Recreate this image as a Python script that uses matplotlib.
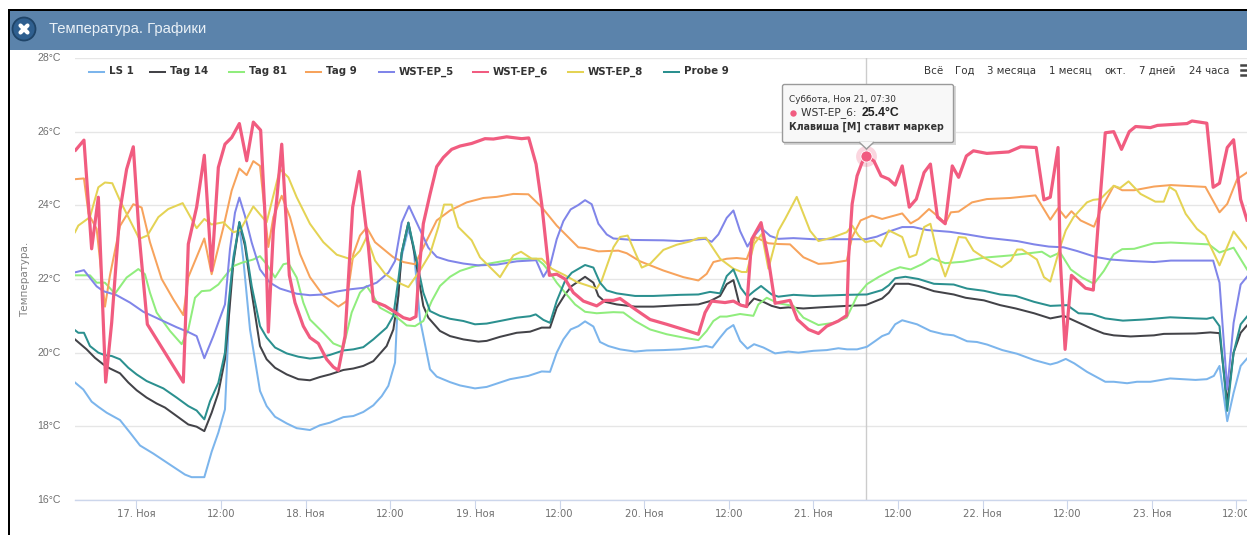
import matplotlib
matplotlib.use("Agg")
import matplotlib.pyplot as plt
from matplotlib.patches import Rectangle, Circle, Polygon, FancyBboxPatch

# ---- data: hours since 17 Nov 00:00, temperature in deg C ----
ls1_h = [-8.72,-7.54,-6.36,-5.41,-4.23,-2.34,-0.92,0.5,2.39,4.75,6.88,7.82,9.62,10.66,11.61,12.55,12.79,13.26,13.74,14.59,15.15,16.1,17.52,18.46,19.65,21.3,22.72,24.6,26.03,27.45,29.34,30.76,32.17,33.59,34.78,35.72,36.67,37.14,37.61,38.56,39.27,40.21,41.63,42.58,44.47,45.89,48.01,49.67,51.09,52.98,55.58,57.47,58.65,59.6,60.54,61.58,62.67,63.62,64.8,65.74,66.93,68.58,70.71,72.37,74.73,77.09,79.46,80.78,81.68,82.77,83.71,84.66,85.61,86.65,87.59,88.91,90.57,92.46,93.88,96.0,97.9,99.55,100.78,102.2,103.6,104.8,105.75,106.7,107.6,108.6,110.7,112.6,114.5,115.9,117.8,119.2,120.64,122.8,124.9,127.3,129.6,130.6,131.8,133.0,134.8,137.4,138.6,140.5,141.9,143.8,146.6,150.2,151.8,152.8,153.6,154.7,155.6,156.6,157.5]
ls1_t = [19.19,19.0,18.67,18.53,18.37,18.17,17.83,17.48,17.26,16.96,16.69,16.62,16.62,17.31,17.83,18.46,19.46,21.72,22.62,23.44,22.53,20.63,18.96,18.55,18.26,18.08,17.95,17.9,18.03,18.1,18.25,18.28,18.39,18.57,18.82,19.1,19.73,21.72,22.62,23.35,22.9,20.9,19.55,19.35,19.2,19.11,19.03,19.07,19.16,19.28,19.37,19.49,19.48,20.0,20.36,20.63,20.72,20.85,20.71,20.29,20.18,20.09,20.03,20.06,20.07,20.09,20.14,20.18,20.14,20.41,20.63,20.75,20.32,20.11,20.23,20.14,19.98,20.03,20.0,20.05,20.07,20.12,20.09,20.09,20.16,20.32,20.45,20.52,20.77,20.88,20.77,20.59,20.5,20.47,20.31,20.29,20.22,20.07,19.97,19.8,19.68,19.73,19.83,19.71,19.48,19.21,19.21,19.17,19.21,19.21,19.3,19.26,19.28,19.37,19.64,18.14,18.91,19.64,19.84]

tag14_h = [-8.72,-7.07,-5.89,-4.7,-3.76,-2.34,-1.16,0.02,1.44,2.86,4.04,5.7,7.35,8.53,9.62,10.66,11.61,12.55,13.03,13.74,14.59,15.39,16.34,17.52,18.46,19.65,21.3,22.96,24.6,26.03,27.45,29.34,30.76,32.17,33.59,35.48,36.43,37.14,37.61,38.56,39.5,40.68,41.39,43.04,44.47,46.36,48.49,49.67,51.56,53.93,55.82,57.47,58.65,59.6,60.78,61.73,63.62,64.8,65.51,66.45,68.11,70.71,73.31,77.09,79.69,81.34,82.77,83.71,84.66,85.51,86.55,87.59,88.68,90.09,91.28,92.46,94.59,96.95,100.73,103.4,105.75,106.7,107.6,109.5,110.9,113.1,115.9,117.6,120.2,122.5,124.7,127.3,129.6,131.5,133.9,135.5,137.2,138.6,141.0,144.3,145.7,150.2,152.3,153.6,154.7,155.6,156.6,157.5]
tag14_t = [20.36,20.09,19.86,19.68,19.57,19.44,19.19,18.98,18.78,18.62,18.51,18.28,18.05,17.99,17.87,18.37,18.91,19.82,20.81,22.44,23.53,22.9,21.63,20.18,19.82,19.59,19.41,19.28,19.25,19.34,19.41,19.53,19.57,19.64,19.77,20.18,20.63,21.54,22.71,23.53,22.62,21.27,20.95,20.59,20.45,20.36,20.3,20.32,20.43,20.54,20.57,20.68,20.68,21.22,21.58,21.81,22.06,21.9,21.54,21.38,21.31,21.25,21.25,21.29,21.31,21.4,21.54,21.86,21.97,21.31,21.25,21.47,21.4,21.27,21.21,21.23,21.2,21.23,21.27,21.29,21.47,21.63,21.87,21.87,21.81,21.67,21.58,21.49,21.42,21.29,21.2,21.07,20.93,21.0,20.79,20.65,20.52,20.47,20.44,20.47,20.51,20.52,20.55,20.53,18.64,20.0,20.54,20.74]

tag81_h = [-8.72,-6.6,-5.65,-4.47,-3.05,-1.4,0.26,1.2,1.91,2.86,4.75,6.41,7.35,8.3,9.24,10.43,11.61,12.55,13.74,14.92,16.57,17.52,18.46,19.65,20.83,21.54,22.72,23.66,24.6,26.5,27.92,29.34,30.52,31.7,32.65,33.59,34.54,36.67,38.32,39.5,40.68,41.87,43.04,44.47,45.89,48.01,50.62,53.93,56.76,57.71,58.65,59.6,60.78,62.2,63.62,65.27,67.64,69.05,70.71,72.84,75.2,77.57,79.69,80.87,81.82,82.77,83.71,85.61,87.49,88.2,89.39,91.04,93.17,94.59,96.72,98.85,100.73,102.2,103.6,105.3,107.0,108.3,109.8,111.4,112.8,114.7,117.3,120.2,123.95,126.6,128.4,129.6,131.0,132.5,134.1,135.8,137.2,138.6,139.8,141.5,144.3,146.7,150.0,152.1,153.6,155.6,157.5]
tag81_t = [22.1,22.1,21.9,21.9,21.6,22.04,22.27,22.13,21.63,21.09,20.59,20.23,20.63,21.49,21.67,21.69,21.85,22.08,22.35,22.44,22.53,22.62,22.4,22.04,22.4,22.43,22.04,21.36,20.9,20.54,20.25,20.14,21.09,21.63,21.81,21.54,21.22,21.0,20.74,20.72,20.86,21.4,21.81,22.06,22.22,22.35,22.44,22.55,22.55,22.4,22.17,21.9,21.63,21.31,21.11,21.07,21.1,21.09,20.86,20.63,20.5,20.41,20.34,20.59,20.86,20.98,20.98,21.05,21.0,21.31,21.49,21.34,21.27,20.95,20.75,20.81,20.95,21.54,21.86,22.06,22.23,22.32,22.26,22.4,22.56,22.43,22.47,22.58,22.64,22.7,22.74,22.6,22.72,22.26,22.04,21.87,22.22,22.67,22.81,22.82,22.97,22.99,22.96,22.94,22.72,22.85,22.26]

tag9_h = [-8.72,-7.45,-6.8,-5.65,-4.47,-3.76,-2.34,-0.45,0.73,1.91,3.57,5.22,6.64,7.35,9.62,10.66,12.32,13.5,14.59,15.63,16.57,17.52,18.7,19.41,20.6,21.77,23.19,24.6,26.5,28.63,29.8,30.76,31.7,32.65,33.83,36.43,37.85,39.5,40.68,42.58,44.47,46.83,49.2,51.09,53.45,55.58,57.47,59.6,62.67,63.62,65.51,68.35,69.53,71.42,74.73,77.57,79.69,80.87,81.82,83.71,85.13,86.55,87.73,89.62,91.04,92.69,94.59,96.72,98.37,100.73,101.5,102.7,104.3,105.75,108.6,109.8,110.9,112.4,113.8,114.7,115.5,116.6,118.5,120.6,123.95,127.5,129.6,130.7,131.8,132.6,133.9,135.8,136.7,138.6,139.8,141.5,144.3,146.7,151.6,153.6,154.7,156.1,157.5]
tag9_t = [24.71,24.73,23.77,23.36,21.25,22.1,23.44,24.03,23.94,23.0,22.0,21.45,21.02,22.05,23.1,22.13,23.4,24.4,25.0,24.82,25.2,25.07,22.87,23.68,24.26,23.68,22.68,22.05,21.55,21.25,21.4,22.68,23.18,23.4,23.0,22.59,22.46,22.4,22.86,23.59,23.86,24.08,24.2,24.23,24.31,24.3,23.95,23.45,22.86,22.84,22.75,22.77,22.7,22.48,22.23,22.05,21.96,22.14,22.46,22.55,22.57,22.54,23.14,22.97,22.95,22.94,22.59,22.41,22.43,22.5,23.14,23.59,23.72,23.63,23.78,23.51,23.63,23.9,23.68,23.51,23.81,23.83,24.08,24.17,24.2,24.27,23.61,23.92,23.66,23.84,23.59,23.42,23.86,24.53,24.41,24.41,24.51,24.55,24.5,23.81,24.04,24.71,24.89]

ep5_h = [-8.72,-7.45,-6.6,-5.65,-4.7,-2.81,-0.92,0.97,3.33,5.7,7.35,8.53,9.62,10.9,12.55,13.26,13.97,14.59,15.39,16.34,17.52,18.93,20.35,22.72,24.6,26.5,28.4,30.29,32.17,34.06,35.72,36.67,37.61,38.65,39.74,41.39,42.58,44.23,46.36,48.49,51.09,53.93,56.67,57.71,58.65,59.6,60.54,61.58,62.67,63.62,64.56,65.51,66.69,67.64,70.47,74.73,77.09,79.46,80.64,81.58,82.53,83.71,84.66,85.61,86.65,87.59,88.58,89.86,91.04,93.17,96.0,101.2,103.4,105.0,106.9,108.6,110.2,112.1,115.4,117.8,120.6,124.9,127.3,129.4,131.5,133.4,136.0,138.1,141.0,144.3,146.7,152.7,153.6,154.7,155.6,156.6,157.5]
ep5_t = [22.18,22.24,22.03,21.8,21.67,21.56,21.36,21.11,20.9,20.69,20.56,20.45,19.85,20.45,21.31,22.81,23.8,24.21,23.71,22.99,22.26,21.9,21.74,21.6,21.56,21.58,21.66,21.72,21.76,21.9,22.17,22.49,23.53,23.98,23.53,22.85,22.6,22.5,22.42,22.37,22.39,22.48,22.51,22.06,22.35,23.08,23.57,23.89,24.01,24.14,24.03,23.5,23.21,23.1,23.06,23.05,23.03,23.07,23.09,23.01,23.21,23.66,23.86,23.3,22.88,23.17,23.39,23.17,23.09,23.11,23.08,23.08,23.08,23.15,23.3,23.41,23.41,23.33,23.28,23.21,23.12,23.03,22.94,22.88,22.86,22.76,22.6,22.53,22.49,22.46,22.5,22.5,21.9,19.0,20.81,21.85,22.06]

ep6_h = [-8.63,-7.45,-6.36,-5.41,-4.37,-3.52,-2.34,-1.4,-0.45,0.4,1.54,6.64,7.35,8.53,9.62,10.66,11.61,12.55,13.5,14.59,15.63,16.57,17.61,18.22,18.7,19.41,19.88,20.6,21.68,22.48,23.66,24.6,25.79,26.97,27.92,28.63,29.58,30.66,31.6,32.9,33.59,35.25,36.67,37.85,38.79,39.64,39.97,40.68,41.63,42.58,43.52,44.7,45.89,47.54,49.43,50.62,52.51,54.63,55.63,56.67,57.47,58.56,59.6,60.78,61.96,63.38,65.27,66.45,67.64,68.58,70.71,72.84,75.2,77.57,79.69,80.64,81.58,83.47,84.66,85.7,86.55,87.26,88.58,89.62,90.57,92.69,93.74,95.3,96.72,97.9,99.55,100.73,101.0,101.5,102.2,102.9,103.5,104.6,105.6,106.7,107.6,108.6,109.6,110.6,111.7,112.6,113.6,114.7,115.7,116.6,117.7,118.7,120.6,123.7,125.4,127.6,128.7,129.6,130.7,131.0,131.7,132.6,134.6,135.7,136.5,137.4,138.6,139.7,140.8,141.7,143.8,144.8,149.0,149.7,151.8,152.7,153.6,154.7,155.6,156.6,157.5]
ep6_t = [25.5,25.77,22.82,24.22,19.2,20.81,23.86,24.98,25.59,23.14,20.77,19.2,22.95,23.95,25.36,22.23,25.03,25.66,25.84,26.22,25.21,26.26,26.04,23.77,20.56,23.32,24.13,25.66,22.1,21.36,20.72,20.41,20.25,19.82,19.61,19.52,20.45,23.95,24.92,22.86,21.4,21.27,21.1,20.95,20.9,20.98,21.96,23.5,24.3,25.05,25.3,25.52,25.61,25.68,25.81,25.8,25.86,25.81,25.83,25.12,24.04,22.1,22.13,22.0,21.63,21.4,21.27,21.42,21.42,21.47,21.18,20.9,20.77,20.63,20.5,21.09,21.4,21.36,21.4,21.29,21.25,23.08,23.53,22.53,21.34,21.42,20.9,20.63,20.52,20.72,20.86,21.01,22.6,24.04,24.8,25.16,25.35,25.2,24.8,24.71,24.55,25.07,23.95,24.17,24.89,25.12,23.68,23.5,25.07,24.76,25.34,25.48,25.41,25.45,25.59,25.57,24.15,24.22,25.57,22.6,20.09,22.1,21.75,21.7,23.77,25.97,26.0,25.52,26.0,26.14,26.11,26.17,26.22,26.29,26.23,24.49,24.6,25.57,25.78,24.16,23.6]

ep8_h = [-8.72,-8.25,-6.6,-5.41,-4.47,-3.43,-2.34,-0.92,0.4,1.54,3.1,4.51,6.55,8.53,9.62,10.66,12.32,13.74,14.68,16.57,18.46,20.35,21.54,22.72,24.6,26.5,28.4,30.52,31.7,32.65,33.83,35.25,36.9,38.56,40.21,41.63,42.81,43.62,44.7,45.65,47.54,48.72,51.56,53.45,54.54,56.05,57.47,58.89,60.78,62.44,65.27,65.98,67.64,68.58,69.67,71.66,72.84,74.73,76.62,78.51,79.69,80.78,82.77,84.66,85.84,86.55,87.59,88.68,89.62,91.04,91.99,93.64,95.53,96.72,98.6,100.73,101.5,102.4,103.4,104.6,105.6,106.7,108.6,109.6,110.6,111.7,112.6,113.6,114.7,115.7,116.6,117.6,118.7,120.2,122.7,124.0,124.9,125.6,127.7,128.7,129.6,131.0,131.8,132.9,134.8,135.7,136.7,138.6,139.5,140.7,142.4,144.5,145.7,146.5,147.4,148.8,150.4,151.6,153.6,155.6,157.5]
ep8_t = [23.27,23.45,23.68,24.49,24.62,24.6,24.13,23.59,23.09,23.18,23.68,23.9,24.06,23.38,23.63,23.48,23.54,23.27,23.32,23.97,23.54,24.98,24.76,24.22,23.5,23.0,22.66,22.53,22.77,23.14,22.5,22.14,21.92,21.78,22.23,22.68,23.41,24.02,24.02,23.41,23.05,22.59,22.05,22.64,22.74,22.55,22.55,22.28,22.1,21.92,21.74,21.96,22.86,23.14,23.18,22.31,22.41,22.79,22.93,23.02,23.11,23.12,22.55,22.28,22.19,22.19,22.95,23.22,22.28,23.31,23.63,24.23,23.31,23.03,23.12,23.27,23.45,23.18,23.0,23.05,22.88,23.32,23.14,22.59,22.66,23.41,23.5,22.68,22.07,22.59,23.14,23.12,22.77,22.58,22.32,22.5,22.8,22.8,22.53,22.05,21.93,22.87,23.32,23.68,24.08,24.15,24.17,24.53,24.47,24.65,24.31,24.1,24.1,24.5,24.39,23.77,23.36,23.18,22.37,23.29,22.82]

probe9_h = [-8.72,-8.25,-7.45,-6.6,-5.41,-4.47,-3.52,-2.34,-1.16,0.02,1.44,2.86,3.81,5.7,7.35,8.53,9.62,10.43,11.61,12.55,13.03,13.74,14.59,15.39,16.34,17.52,18.46,19.65,21.3,22.96,24.6,26.03,27.45,29.34,30.76,32.17,33.59,35.48,36.43,37.14,37.61,38.56,39.5,40.68,41.63,43.04,44.47,46.36,48.01,49.67,51.56,53.93,55.82,56.62,57.71,58.65,59.6,60.78,61.73,63.62,64.8,65.74,66.69,68.11,70.71,73.31,77.09,79.69,81.34,82.77,83.71,84.66,85.7,86.65,87.59,88.58,90.09,91.04,93.17,96.0,100.73,103.6,105.75,106.7,107.6,109.05,110.9,113.1,115.9,117.8,120.2,122.5,124.7,127.3,129.6,132.0,133.6,135.5,137.4,139.9,142.9,146.6,150.2,151.8,152.7,153.6,154.7,155.6,156.6,157.5]
probe9_t = [20.61,20.54,20.54,20.18,20.0,19.93,19.91,19.82,19.59,19.41,19.23,19.11,19.03,18.78,18.55,18.43,18.19,18.68,19.18,20.0,21.27,22.53,23.55,22.99,21.81,20.72,20.41,20.14,19.98,19.89,19.84,19.87,19.94,20.06,20.09,20.15,20.36,20.68,21.0,21.99,22.71,23.53,22.71,21.63,21.13,21.0,20.92,20.86,20.77,20.79,20.86,20.95,20.99,21.04,20.89,20.81,21.4,21.95,22.17,22.38,22.31,21.9,21.69,21.61,21.54,21.54,21.57,21.58,21.65,21.61,22.08,22.26,21.76,21.52,21.67,21.81,21.58,21.52,21.57,21.54,21.57,21.58,21.7,21.83,22.02,22.06,22.0,21.87,21.85,21.74,21.68,21.58,21.54,21.38,21.27,21.29,21.07,21.05,20.93,20.87,20.9,20.96,20.93,20.92,20.96,20.72,18.42,20.0,20.77,20.98]

series_names = ["LS 1", "Tag 14", "Tag 81", "Tag 9", "WST-EP_5", "WST-EP_6", "WST-EP_8", "Probe 9"]
series_hours = [ls1_h, tag14_h, tag81_h, tag9_h, ep5_h, ep6_h, ep8_h, probe9_h]
series_temps = [ls1_t, tag14_t, tag81_t, tag9_t, ep5_t, ep6_t, ep8_t, probe9_t]
series_colors = ["#7cb5ec", "#434348", "#90ed7d", "#f7a35c", "#8085e9", "#f15c80", "#e4d354", "#2b908f"]
y_ticks = [16, 18, 20, 22, 24, 26, 28]
x_ticks = [0, 12, 24, 36, 48, 60, 72, 84, 96, 108, 120, 132, 144, 156]
x_labels = ["17. Ноя", "12:00", "18. Ноя", "12:00", "19. Ноя", "12:00", "20. Ноя", "12:00",
            "21. Ноя", "12:00", "22. Ноя", "12:00", "23. Ноя", "12:00"]
range_labels = ["Всё", "Год", "3 месяца", "1 месяц", "окт.", "7 дней", "24 часа"]
hover_hour = 103.5
hover_temp = 25.35

# ---- layout ----
W, H = 1247, 535
fig = plt.figure(figsize=(W / 100, H / 100), dpi=100, facecolor="white")
L, R, T, B = 75, 1247, 58, 500
ax = fig.add_axes([L / W, 1 - B / H, (R - L) / W, (B - T) / H])
ax.set_xlim(-8.72, 157.5)
ax.set_ylim(16, 28)
for s in ["top", "right", "left"]:
    ax.spines[s].set_visible(False)
ax.spines["bottom"].set_color("#ccd6eb")
ax.spines["bottom"].set_linewidth(1.0)
ax.set_yticks(y_ticks)
ax.set_yticklabels([])
ax.tick_params(axis="y", length=0)
ax.grid(axis="y", color="#e6e6e6", lw=1.0)
ax.set_axisbelow(True)
ax.set_xticks(x_ticks)
ax.set_xticklabels(x_labels, fontsize=7.2, color="#707070", family="DejaVu Sans")
ax.tick_params(axis="x", length=6.3, width=0.8, color="#ccd6eb", pad=0.5)

ax.axvline(hover_hour, color="#cccccc", lw=1.0, zorder=1.5)
for name, hs, ts, col in zip(series_names, series_hours, series_temps, series_colors):
    hot = name == "WST-EP_6"
    ax.plot(hs, ts, color=col, lw=2.3 if hot else 1.45, zorder=4 if hot else 3,
            solid_joinstyle="round")
ax.plot([hover_hour], [hover_temp], "o", ms=15, color="#f15c80", alpha=0.25, mec="none", zorder=5)
ax.plot([hover_hour], [hover_temp], "o", ms=8, color="#f15c80", mec="white", mew=0.6, zorder=6)

# overlay in pixel coordinates for the page furniture
ov = fig.add_axes([0, 0, 1, 1], zorder=10)
ov.set_xlim(0, W)
ov.set_ylim(H, 0)
ov.axis("off")
ov.patch.set_alpha(0)

ov.add_patch(Rectangle((8, 9), W - 8, 2, color="black", lw=0))
ov.add_patch(Rectangle((8, 9), 2, H - 9, color="black", lw=0))
ov.add_patch(Rectangle((10, 11), W - 10, 39, color="#5b83ab", lw=0))
ov.add_patch(Circle((24, 29), 11.5, facecolor="#2f5f8f", edgecolor="#1f4468", lw=1.3))
ov.plot([20.5, 27.5], [25.5, 32.5], color="white", lw=3.0, solid_capstyle="round")
ov.plot([20.5, 27.5], [32.5, 25.5], color="white", lw=3.0, solid_capstyle="round")
ov.text(49, 29.5, "Температура. Графики", color="#eaf1f7", fontsize=10.7,
        family="Liberation Sans", va="center", ha="left")

# y labels
for v in y_ticks:
    yy = B - (v - 16) * (B - T) / 12
    ov.text(61, yy, f"{v}°C", color="#707070", fontsize=7.6, ha="right", va="center",
            family="Liberation Sans")
ov.text(25, 279, "Температура.", color="#808080", fontsize=7.5, rotation=90, ha="center",
        va="center", family="DejaVu Sans")

# legend
legend_line_x = [89, 150, 229, 306, 379, 473, 568, 664]
for x0, name, col in zip(legend_line_x, series_names, series_colors):
    ov.plot([x0, x0 + 15], [71.5, 71.5], color=col, lw=1.45)
    ov.text(x0 + 20, 71.5, name, color="#333333", fontsize=7.4, fontweight="bold",
            family="DejaVu Sans", va="center", ha="left")

# range selector
range_x = [924, 955, 987, 1049, 1104, 1139, 1189]
for x0, lab in zip(range_x, range_labels):
    ov.text(x0, 71, lab, color="#333333", fontsize=7.4, family="DejaVu Sans", va="center", ha="left")
for yy in (65, 70, 75):
    ov.plot([1241, W], [yy, yy], color="#444444", lw=1.8)

# tooltip
hx = 866.5
ov.add_patch(Rectangle((784, 86), 171.5, 58.5, facecolor="#d8d8d8", edgecolor="none", zorder=5))
ov.add_patch(FancyBboxPatch((782.5, 84.5), 171, 58, boxstyle="round,pad=0,rounding_size=2",
                            facecolor="#f8f8f8", edgecolor="#9a9a9a", lw=1.0, zorder=6))
ov.add_patch(Polygon([(hx - 7, 142), (hx + 7, 142), (hx, 149)], closed=True,
                     facecolor="#f8f8f8", edgecolor="none", zorder=7))
ov.plot([hx - 7, hx, hx + 7], [142.5, 149, 142.5], color="#9a9a9a", lw=1.0, zorder=7)
ov.text(789, 100, "Суббота, Ноя 21, 07:30", fontsize=6.4, color="#333333",
        family="DejaVu Sans", va="center", zorder=8)
ov.plot([793], [113], "o", ms=4.6, color="#f15c80", mec="none", zorder=8)
ov.text(801, 113, "WST-EP_6: ", fontsize=7.7, color="#333333", family="DejaVu Sans",
        va="center", zorder=8)
ov.text(862, 113, "25.4°C", fontsize=8.8, color="#222222", fontweight="bold",
        family="Liberation Sans", va="center", zorder=8)
ov.text(789, 127, "Клавиша [M] ставит маркер", fontsize=6.85, color="#333333",
        fontweight="bold", family="DejaVu Sans", va="center", zorder=8)

fig.savefig("out.png", dpi=100, facecolor="white")
